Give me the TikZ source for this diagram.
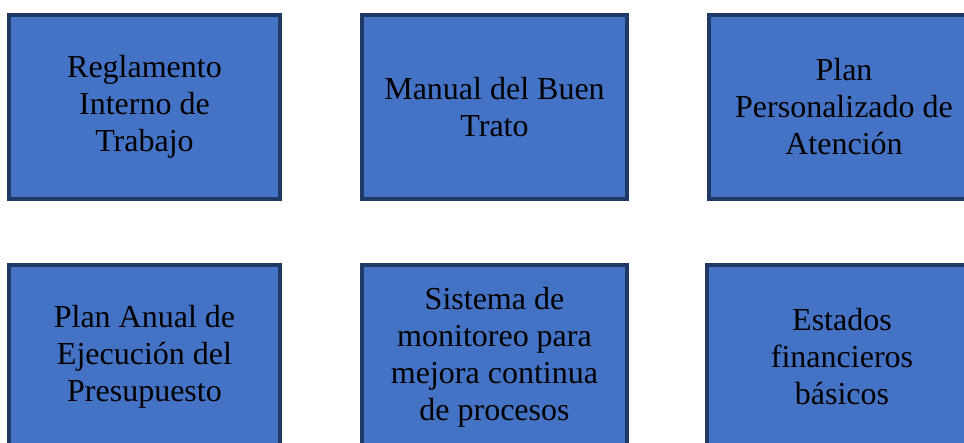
\documentclass[tikz,border=0pt]{standalone}
\usepackage{fontspec}
\setmainfont{Liberation Serif}
\definecolor{cajaazul}{HTML}{4472C4}
\definecolor{bordeazul}{HTML}{1F3864}
\begin{document}
\begin{tikzpicture}[x=1pt,y=-1pt,
  caja/.style={draw=bordeazul, line width=4pt, fill=cajaazul, align=center,
    minimum width=271pt, minimum height=184pt, inner sep=0pt,
    font=\fontsize{32}{37}\selectfont}]
\clip (0,0) rectangle (964,443); % page size
% top row
\node[caja] (reglamento) at (144.5,107) {Reglamento\\Interno de\\Trabajo};
\node[caja, minimum width=265pt] (manual) at (494.5,107) {Manual del Buen\\Trato};
\node[caja] (plan) at (844,107) {Plan\\Personalizado de\\Atención};
% bottom row
\node[caja] (presupuesto) at (144.5,357) {Plan Anual de\\Ejecución del\\Presupuesto};
\node[caja, minimum width=265pt] (monitoreo) at (494.5,357) {Sistema de\\monitoreo para\\mejora continua\\de procesos};
\node[caja] (estados) at (842,357) {Estados\\financieros\\básicos};
\end{tikzpicture}
\end{document}
